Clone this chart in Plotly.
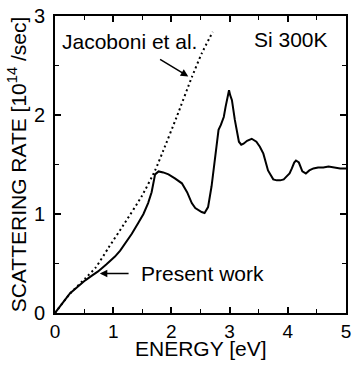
import plotly.graph_objects as go

# Scattering rate of electrons in Si at 300 K vs. energy
energy_present = [0, 0.05, 0.15, 0.26, 0.4, 0.52, 0.64, 0.74, 0.88, 1.03, 1.12, 1.2, 1.32, 1.43,
                  1.52, 1.60, 1.66, 1.72, 1.78, 1.86, 1.95, 2.06, 2.18, 2.27, 2.35, 2.41, 2.46,
                  2.52, 2.57, 2.63, 2.69, 2.75, 2.78, 2.81, 2.85, 2.90, 2.93, 2.96, 2.99, 3.01,
                  3.04, 3.09, 3.13, 3.16, 3.20, 3.24, 3.30, 3.38, 3.46, 3.52, 3.58, 3.66, 3.75,
                  3.81, 3.87, 3.93, 3.98, 4.03, 4.07, 4.11, 4.14, 4.19, 4.25, 4.31, 4.37, 4.44,
                  4.52, 4.61, 4.70, 4.81, 4.90, 5.0]
rate_present = [0, 0.04, 0.12, 0.20, 0.27, 0.33, 0.38, 0.42, 0.49, 0.57, 0.63, 0.70, 0.80, 0.91,
                1.00, 1.11, 1.22, 1.40, 1.43, 1.42, 1.40, 1.36, 1.31, 1.22, 1.11, 1.06, 1.04,
                1.02, 1.01, 1.07, 1.28, 1.58, 1.70, 1.85, 1.90, 1.98, 2.08, 2.15, 2.25, 2.20,
                2.15, 1.95, 1.82, 1.73, 1.70, 1.71, 1.74, 1.76, 1.73, 1.68, 1.61, 1.44, 1.35,
                1.34, 1.34, 1.35, 1.38, 1.41, 1.46, 1.52, 1.54, 1.52, 1.43, 1.41, 1.44, 1.46,
                1.47, 1.47, 1.48, 1.47, 1.46, 1.46]

energy_jacoboni = [0, 0.25, 0.52, 0.70, 0.92, 1.2, 1.49, 1.72, 1.86, 2.09, 2.35, 2.52, 2.71]
rate_jacoboni = [0, 0.19, 0.35, 0.46, 0.66, 0.91, 1.18, 1.44, 1.64, 1.98, 2.38, 2.62, 2.84]

x_ticks = [0, 1, 2, 3, 4, 5]
y_ticks = [0, 1, 2, 3]

FONT = "Liberation Sans, Arial, Helvetica, sans-serif"

fig = go.Figure()
fig.add_trace(go.Scatter(x=energy_jacoboni, y=rate_jacoboni, mode="lines",
                         line=dict(color="black", width=2, dash="2px,3px", shape="spline",
                                   smoothing=0.6),
                         hoverinfo="skip", showlegend=False))
fig.add_trace(go.Scatter(x=energy_present, y=rate_present, mode="lines",
                         line=dict(color="black", width=2),
                         hoverinfo="skip", showlegend=False))

axis_common = dict(
    showgrid=False, zeroline=False, showline=True, linecolor="black", linewidth=2,
    mirror="allticks", ticks="inside", ticklen=6, tickwidth=1.5, tickcolor="black",
    automargin=False,
    minor=dict(ticks="inside", ticklen=4, tickwidth=1.2, tickcolor="black", dtick=0.5),
)

fig.update_xaxes(range=[0, 5], tickvals=x_ticks, ticklabelstandoff=0,
                 tickfont=dict(family=FONT, size=19, color="black"), **axis_common)
fig.update_yaxes(range=[0, 3], tickvals=y_ticks, ticklabelstandoff=4,
                 tickfont=dict(family=FONT, size=20, color="black"),
                 title=dict(text="SCATTERING RATE [10<sup>14</sup> /sec]",
                            font=dict(family=FONT, size=21, color="black"), standoff=2),
                 **axis_common)

txt = dict(family=FONT, size=21, color="black")
# x-axis title placed below the tick labels
fig.add_annotation(x=0.5, y=-0.121, xref="paper", yref="paper", text="ENERGY [eV]",
                   showarrow=False, xanchor="center", yanchor="middle",
                   font=dict(family=FONT, size=21, color="black"))
fig.add_annotation(x=0.08, y=2.74, text="Jacoboni et al.", showarrow=False,
                   xanchor="left", yanchor="middle", font=txt)
fig.add_annotation(x=4.72, y=2.76, text="Si 300K", showarrow=False,
                   xanchor="right", yanchor="middle", font=txt)
fig.add_annotation(x=1.45, y=0.40, text="Present work", showarrow=False,
                   xanchor="left", yanchor="middle", font=txt)
fig.add_annotation(x=0.77, y=0.40, ax=1.29, ay=0.40, axref="x", ayref="y",
                   text="", showarrow=True, arrowhead=2, arrowsize=1, arrowwidth=1.5,
                   arrowcolor="black")
fig.add_annotation(x=2.29, y=2.39, ax=1.78, ay=2.57, axref="x", ayref="y",
                   text="", showarrow=True, arrowhead=2, arrowsize=1, arrowwidth=1.5,
                   arrowcolor="black")

fig.update_layout(width=353, height=366, margin=dict(l=55, r=7, t=16, b=53),
                  paper_bgcolor="white", plot_bgcolor="white", showlegend=False)

fig.write_html("out.html", config={"displayModeBar": False})
